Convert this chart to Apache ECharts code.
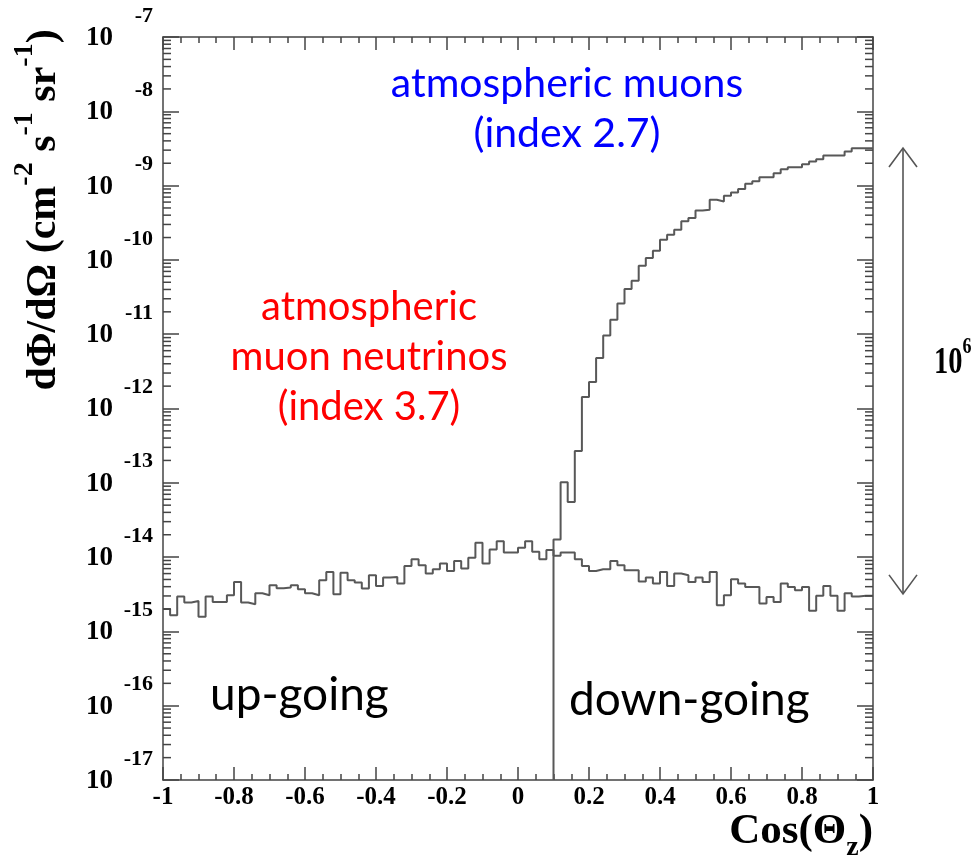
<!DOCTYPE html>
<html>
<head>
<meta charset="utf-8">
<script src="https://cdn.jsdelivr.net/npm/echarts@6/dist/echarts.min.js"></script>
<style>
  html, body { margin: 0; padding: 0; background: #fff; }
  #chart { width: 975px; height: 862px; }
</style>
</head>
<body>
<div id="chart"></div>
<script>
// Histogram binning in cos(theta_z)
const binWidth = 0.02;
const xStart = -1;

// Atmospheric muon-neutrino flux, 100 bins from cos = -1 to 1 (cm^-2 s^-1 sr^-1)
const neutrinoFlux = [
  2.00e-15, 1.65e-15, 2.94e-15, 2.45e-15, 2.57e-15, 1.58e-15, 2.94e-15, 2.49e-15, 2.49e-15, 3.07e-15,
  4.63e-15, 2.45e-15, 2.32e-15, 3.26e-15, 3.07e-15, 4.18e-15, 3.81e-15, 3.89e-15, 4.18e-15, 3.69e-15,
  3.26e-15, 3.07e-15, 4.88e-15, 6.31e-15, 3.16e-15, 6.18e-15, 4.88e-15, 4.54e-15, 3.77e-15, 5.69e-15,
  4.09e-15, 5.30e-15, 5.41e-15, 4.40e-15, 7.60e-15, 9.34e-15, 7.76e-15, 6.00e-15, 6.85e-15, 8.17e-15,
  6.51e-15, 8.87e-15, 7.00e-15, 9.83e-15, 1.56e-14, 8.17e-15, 1.27e-14, 1.63e-14, 1.15e-14, 1.15e-14,
  1.34e-14, 1.63e-14, 1.18e-14, 9.34e-15, 1.25e-14, 1.04e-14, 1.15e-14, 1.15e-14, 9.34e-15, 7.60e-15,
  6.51e-15, 6.85e-15, 6.85e-15, 8.87e-15, 7.76e-15, 6.65e-15, 6.65e-15, 4.68e-15, 5.30e-15, 4.40e-15,
  6.31e-15, 4.09e-15, 6.00e-15, 5.69e-15, 4.63e-15, 5.30e-15, 4.63e-15, 6.31e-15, 2.25e-15, 3.07e-15,
  5.03e-15, 4.40e-15, 3.97e-15, 3.97e-15, 2.37e-15, 2.91e-15, 2.49e-15, 4.40e-15, 3.97e-15, 3.58e-15,
  3.97e-15, 1.89e-15, 3.01e-15, 4.09e-15, 3.01e-15, 1.89e-15, 3.26e-15, 2.94e-15, 3.01e-15, 3.01e-15
];

// Atmospheric muon flux: zero below cos = 0.10 (bin 55), then bins 55..99
const muonStartBin = 55;
const muonFlux = [
  1.73e-14, 1.02e-13, 5.51e-14, 2.67e-13, 1.43e-12, 2.28e-12, 4.80e-12, 9.57e-12, 1.57e-11, 2.58e-11,
  4.06e-11, 5.25e-11, 8.35e-11, 1.06e-10, 1.33e-10, 1.87e-10, 2.18e-10, 2.55e-10, 3.30e-10, 3.66e-10,
  4.63e-10, 4.73e-10, 6.45e-10, 6.12e-10, 7.29e-10, 8.09e-10, 8.97e-10, 1.06e-09, 1.14e-09, 1.30e-09,
  1.30e-09, 1.47e-09, 1.66e-09, 1.77e-09, 1.77e-09, 1.94e-09, 2.11e-09, 2.27e-09, 2.54e-09, 2.54e-09,
  2.54e-09, 2.88e-09, 3.19e-09, 3.19e-09, 3.19e-09
];

// Axis tick labels
const xTickLabels = ['-1', '-0.8', '-0.6', '-0.4', '-0.2', '0', '0.2', '0.4', '0.6', '0.8', '1'];
const yDecades = [-17, -16, -15, -14, -13, -12, -11, -10, -9, -8, -7];
const yMinorMultipliers = [2, 3, 4, 5, 6, 7, 8, 9];

// Six-decade span marker between the muon plateau and the neutrino level
const spanTop = 3.2e-9;
const spanRatio = 1e6;

const yMin = Math.pow(10, yDecades[0]);
const yMax = Math.pow(10, yDecades[yDecades.length - 1]);
const edge = k => +(xStart + k * binWidth).toFixed(2);

// step outlines: one point per bin left edge, plus closing right edge
const nuData = neutrinoFlux.map((v, k) => [edge(k), v]);
nuData.push([edge(neutrinoFlux.length), neutrinoFlux[neutrinoFlux.length - 1]]);

const muData = [[edge(muonStartBin), yMin]];
muonFlux.forEach((v, i) => muData.push([edge(muonStartBin + i), v]));
muData.push([edge(muonStartBin + muonFlux.length), muonFlux[muonFlux.length - 1]]);

const minorTickValues = [];
yDecades.slice(0, -1).forEach(e => yMinorMultipliers.forEach(m => minorTickValues.push([-1, m * Math.pow(10, e)])));
const decadeLabelData = yDecades.map(e => [-1, Math.pow(10, e), e]);

const SERIF = '"Liberation Serif", "Times New Roman", serif';
const SANS = 'Lato, "Open Sans", sans-serif';
const AX = '#444';
const HIST = '#585858';

const chart = echarts.init(document.getElementById('chart'), null, { renderer: 'canvas' });

const xAxisBase = {
  type: 'value', min: -1, max: 1, interval: 0.2,
  axisLine: { show: true, onZero: false, lineStyle: { color: AX, width: 1.5 } },
  axisTick: { show: true, inside: true, length: 13, lineStyle: { color: AX, width: 1.5 } },
  minorTick: { show: true, splitNumber: 4, length: 6, lineStyle: { color: AX, width: 1.5 } },
  splitLine: { show: false }, minorSplitLine: { show: false }
};
const yAxisBase = {
  type: 'log', logBase: 10, min: yMin, max: yMax, interval: 1,
  axisLine: { show: true, onZero: false, lineStyle: { color: AX, width: 1.5 } },
  axisTick: { show: true, inside: true, length: 16, lineStyle: { color: AX, width: 1.5 } },
  axisLabel: { show: false },
  minorTick: { show: false }, splitLine: { show: false }
};

const option = {
  animation: false,
  backgroundColor: '#fff',
  grid: { left: 163, top: 37, width: 710, height: 745 },
  xAxis: [
    Object.assign({}, xAxisBase, {
      position: 'bottom',
      axisLabel: {
        margin: 5, color: '#000', fontFamily: SERIF, fontWeight: 'bold', fontSize: 25,
        formatter: v => xTickLabels[Math.round((v - xStart) / 0.2)]
      },
      name: '{m|Cos(Θ}{z|z}{m|)}',
      nameLocation: 'end', nameGap: 0,
      nameTextStyle: {
        align: 'right', verticalAlign: 'top', padding: [22, 0, 0, 0],
        rich: {
          m: { fontFamily: SERIF, fontWeight: 'bold', fontSize: 43, color: '#000', verticalAlign: 'middle' },
          z: { fontFamily: SERIF, fontWeight: 'bold', fontSize: 28, color: '#000', padding: [32, 0, 0, 0], verticalAlign: 'middle' }
        }
      }
    }),
    Object.assign({}, xAxisBase, { position: 'top', axisLabel: { show: false } })
  ],
  yAxis: [
    Object.assign({}, yAxisBase, { position: 'left' }),
    Object.assign({}, yAxisBase, { position: 'right' })
  ],
  series: [
    {
      name: 'atmospheric muon neutrinos', type: 'line', step: 'end',
      xAxisIndex: 0, yAxisIndex: 0, data: nuData, showSymbol: false, symbol: 'none',
      lineStyle: { color: HIST, width: 2 }, z: 3
    },
    {
      name: 'atmospheric muons', type: 'line', step: 'end',
      xAxisIndex: 0, yAxisIndex: 0, data: muData, showSymbol: false, symbol: 'none',
      lineStyle: { color: HIST, width: 2 }, z: 3
    },
    {
      // minor log ticks (2..9 per decade) on the left and right frame edges
      type: 'custom', silent: true, z: 4, xAxisIndex: 0, yAxisIndex: 0,
      data: minorTickValues,
      renderItem: (params, api) => {
        const v = api.value(1);
        const l = api.coord([-1, v]);
        const r = api.coord([1, v]);
        const st = { stroke: AX, lineWidth: 1.5 };
        return {
          type: 'group', children: [
            { type: 'line', shape: { x1: l[0], y1: l[1], x2: l[0] + 8, y2: l[1] }, style: st },
            { type: 'line', shape: { x1: r[0] - 8, y1: r[1], x2: r[0], y2: r[1] }, style: st }
          ]
        };
      }
    },
    {
      // decade labels "10^n" left of the frame
      type: 'custom', silent: true, clip: false, z: 4, xAxisIndex: 0, yAxisIndex: 0,
      data: decadeLabelData,
      renderItem: (params, api) => {
        const p = api.coord([api.value(0), api.value(1)]);
        const exp = yDecades[params.dataIndex];
        return {
          type: 'group', children: [
            {
              type: 'text', x: p[0] - 50, y: p[1] + 1,
              style: { text: '10', align: 'right', verticalAlign: 'middle', fontFamily: SERIF, fontWeight: 'bold', fontSize: 27, fill: '#000' }
            },
            {
              type: 'text', x: p[0] - 10, y: p[1] - 21,
              style: { text: String(exp), align: 'right', verticalAlign: 'middle', fontFamily: SERIF, fontWeight: 'bold', fontSize: 22, fill: '#000' }
            }
          ]
        };
      }
    },
    {
      // double arrow marking the 10^6 flux ratio, right of the frame
      type: 'custom', silent: true, clip: false, z: 4, xAxisIndex: 0, yAxisIndex: 0,
      data: [[1, spanTop, spanTop / spanRatio]],
      renderItem: (params, api) => {
        const top = api.coord([api.value(0), api.value(1)]);
        const bot = api.coord([api.value(0), api.value(2)]);
        const x = top[0] + 30;
        const st = { stroke: '#555', lineWidth: 1.6, fill: null };
        return {
          type: 'group', children: [
            { type: 'line', shape: { x1: x, y1: top[1], x2: x, y2: bot[1] }, style: st },
            { type: 'polyline', shape: { points: [[x - 14, top[1] + 19], [x, top[1]], [x + 14, top[1] + 19]] }, style: st },
            { type: 'polyline', shape: { points: [[x - 14, bot[1] - 19], [x, bot[1]], [x + 14, bot[1] - 19]] }, style: st },
            {
              type: 'text', x: x + 31, y: (top[1] + bot[1]) / 2 - 8, scaleX: 0.75,
              style: {
                text: '{b|10}{s|6}', align: 'left', verticalAlign: 'middle',
                rich: {
                  b: { fontFamily: SERIF, fontWeight: 'bold', fontSize: 38, fill: '#000', verticalAlign: 'middle' },
                  s: { fontFamily: SERIF, fontWeight: 'bold', fontSize: 24, fill: '#000', padding: [0, 0, 32, 0], verticalAlign: 'middle' }
                }
              }
            }
          ]
        };
      }
    }
  ],
  graphic: [
    {
      type: 'text', x: 44, y: 210, rotation: Math.PI / 2,
      style: {
        text: '{m|dΦ/dΩ (cm}{s|-2}{m| s}{s|-1}{m| sr}{s|-1}{m|)}',
        align: 'center', verticalAlign: 'middle',
        rich: {
          m: { fontFamily: SERIF, fontWeight: 'bold', fontSize: 42, fill: '#000', verticalAlign: 'middle' },
          s: { fontFamily: SERIF, fontWeight: 'bold', fontSize: 28, fill: '#000', padding: [0, 0, 38, 0], verticalAlign: 'middle' }
        }
      }
    },
    {
      type: 'text', x: 567, y: 109,
      style: {
        text: 'atmospheric muons\n(index 2.7)', align: 'center', verticalAlign: 'middle',
        fontFamily: SANS, fontSize: 41, lineHeight: 50, fill: '#0000ff'
      }
    },
    {
      type: 'text', x: 369, y: 357,
      style: {
        text: 'atmospheric\nmuon neutrinos\n(index 3.7)', align: 'center', verticalAlign: 'middle',
        fontFamily: SANS, fontSize: 40, lineHeight: 50, fill: '#ff0000'
      }
    },
    {
      type: 'text', x: 210, y: 695,
      style: { text: 'up-going', align: 'left', verticalAlign: 'middle', fontFamily: SANS, fontSize: 46, fill: '#000' }
    },
    {
      type: 'text', x: 569, y: 700,
      style: { text: 'down-going', align: 'left', verticalAlign: 'middle', fontFamily: SANS, fontSize: 46, fill: '#000' }
    }
  ]
};

chart.setOption(option);
</script>
</body>
</html>
